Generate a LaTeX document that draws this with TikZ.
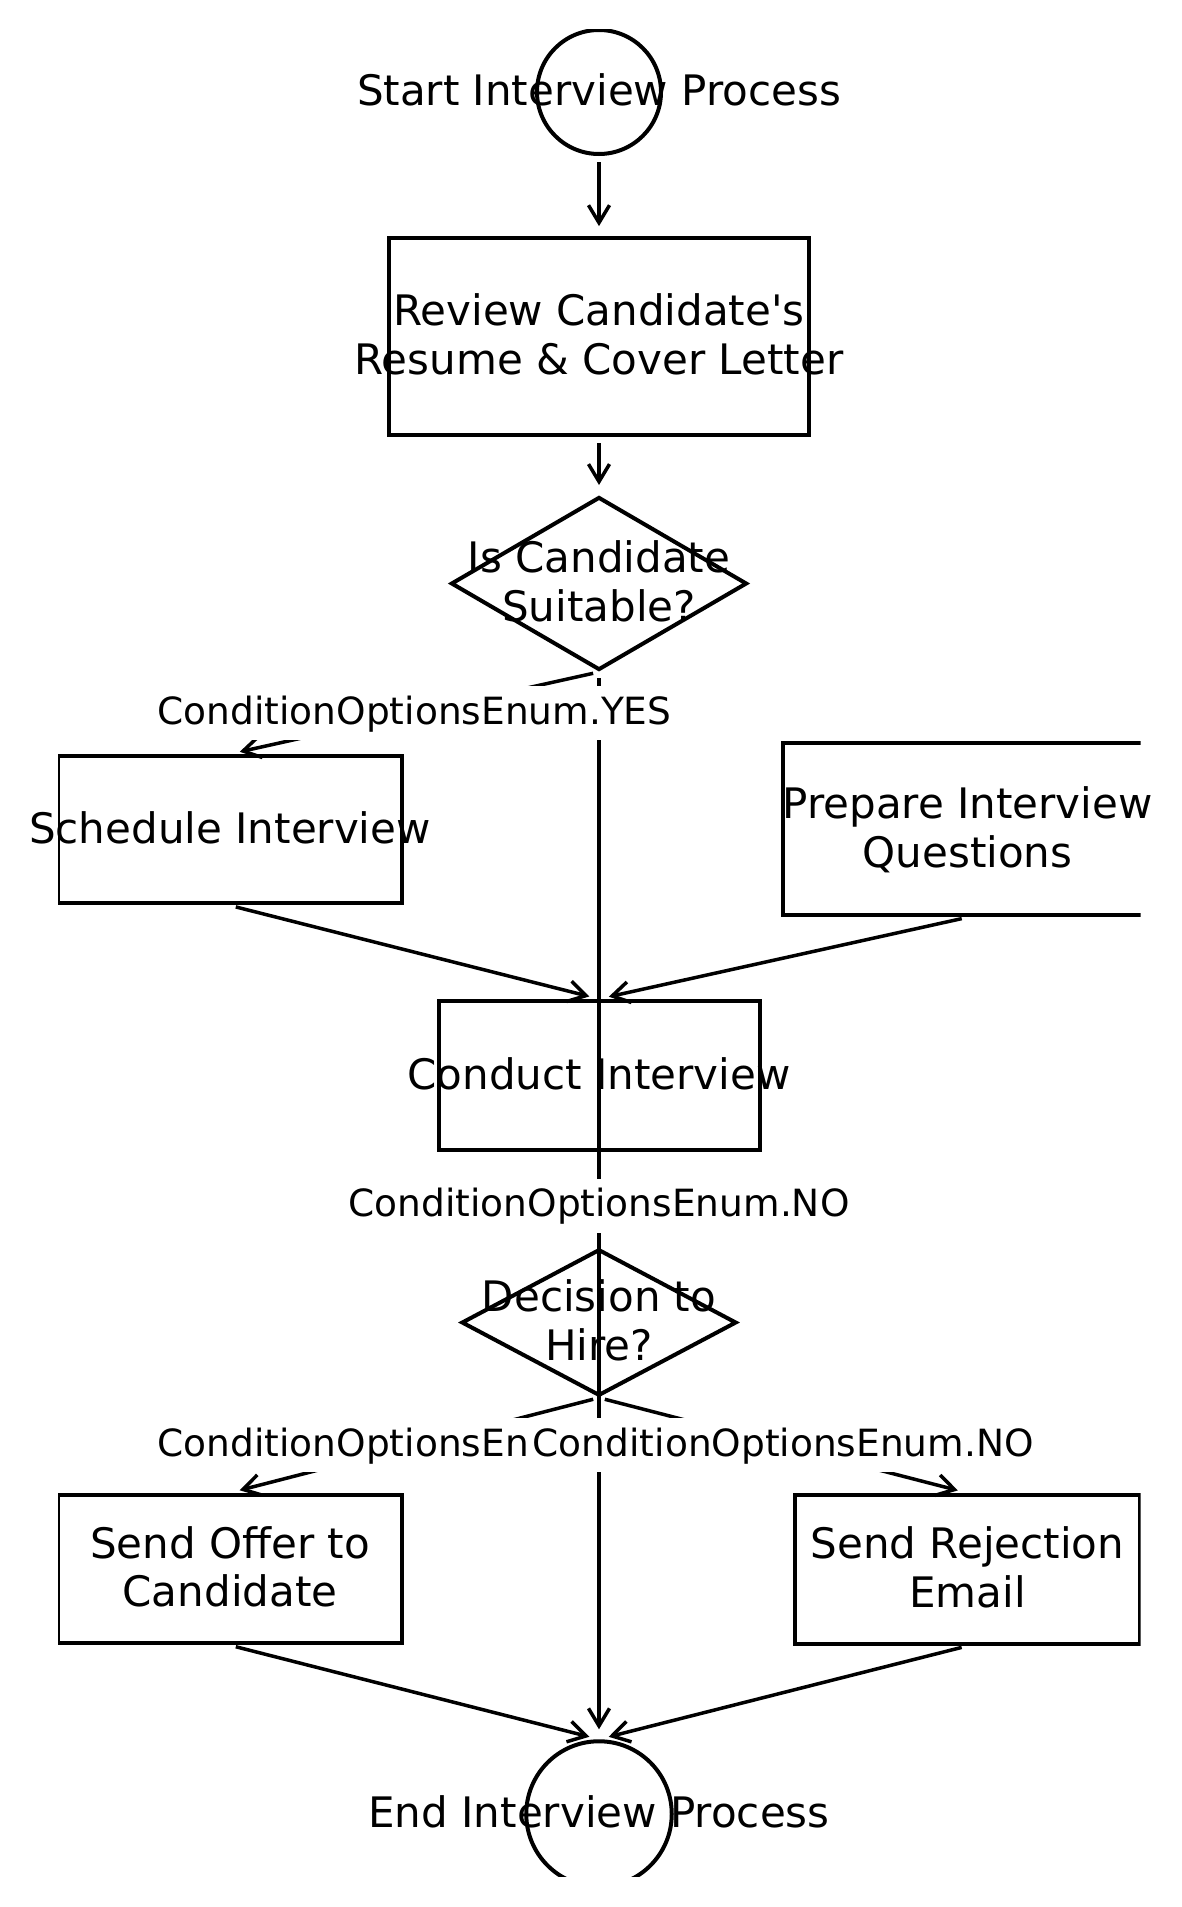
\documentclass[tikz,border=0pt]{standalone}
\usepackage{fontspec}
\setmainfont{DejaVu Sans}
\usetikzlibrary{shapes.geometric,arrows.meta}
\newcommand{\straightquote}{\XeTeXglyph\numexpr\XeTeXcharglyph"27\relax}
\begin{document}
\begin{tikzpicture}[x=0.4pt,y=-0.4pt,
  shapebox/.style={draw, line width=1.6pt, rectangle, inner sep=0pt},
  dia/.style={draw, line width=1.6pt, diamond, inner sep=0pt},
  circ/.style={draw, line width=1.6pt, circle, inner sep=0pt},
  ntext/.style={font=\fontsize{16.8}{19.4}\selectfont, align=center, inner sep=0pt},
  one/.style={text height=15pt, text depth=4.1pt},
  two/.style={text height=34.4pt, text depth=4.1pt},
  edge/.style={line width=1.4pt, -{Straight Barb[length=7pt,width=8.4pt]}, shorten <=2.4pt, shorten >=4pt},
  lbl/.style={fill=white, font=\fontsize{15}{18}\selectfont, text height=12.5pt, text depth=3.5pt, inner xsep=2.5pt, inner ysep=2.85pt}
]
\useasboundingbox (0,0) rectangle (1181,1907);
\begin{scope}
\clip (58,29.3) rectangle (1140.5,1876.5);
\node[circ, minimum size=49.6pt] (start) at (599,92) {};
\node[shapebox, minimum width=168pt, minimum height=78.8pt] (review) at (599,336.6) {};
\node[dia, minimum width=118.4pt, minimum height=69.2pt] (suit) at (599,583.5) {};
\node[shapebox, minimum width=137.6pt, minimum height=59pt] (sched) at (230,829.7) {};
\node[shapebox, minimum width=148pt, minimum height=68.8pt] (prep) at (967.6,829.3) {};
\node[shapebox, minimum width=128.4pt, minimum height=59.6pt] (conduct) at (599,1075.4) {};
\node[dia, minimum width=110pt, minimum height=58.6pt] (hire) at (599,1322.5) {};
\node[shapebox, minimum width=137.6pt, minimum height=59.4pt] (offer) at (230,1569) {};
\node[shapebox, minimum width=137.8pt, minimum height=59.6pt] (reject) at (967.5,1569.4) {};
\node[circ, minimum size=58.2pt] (end) at (599,1814) {};

\draw[edge] (start.south) -- (review.north);
\draw[edge] (review.south) -- (suit.north);
\draw[edge] (suit.south) -- coordinate[pos=0.5] (m1) (sched.north);
\draw[edge] (suit.south) -- coordinate[pos=0.5] (m2) (end.north);
\draw[edge] (sched.south) -- (conduct.north);
\draw[edge] (prep.south) -- (conduct.north);
\draw[edge] (hire.south) -- coordinate[pos=0.5] (m3) (offer.north);
\draw[edge] (hire.south) -- coordinate[pos=0.5] (m4) (reject.north);
\draw[edge] (offer.south) -- (end.north);
\draw[edge] (reject.south) -- (end.north);
\end{scope}

\node[ntext, one] (startT) at (start) {Start Interview Process};
\node[ntext, two] (reviewT) at (review) {Review Candidate\straightquote s\\Resume \& Cover Letter};
\node[ntext, two] (suitT) at (suit) {Is Candidate\\Suitable?};
\node[ntext, one] (schedT) at (sched) {Schedule Interview};
\node[ntext, two] (prepT) at (prep) {Prepare Interview\\Questions};
\node[ntext, one] (conductT) at (conduct) {Conduct Interview};
\node[ntext, two] (hireT) at (hire) {Decision to\\Hire?};
\node[ntext, two] (offerT) at (offer) {Send Offer to\\Candidate};
\node[ntext, two] (rejectT) at (reject) {Send Rejection\\Email};
\node[ntext, one] (endT) at (end) {End Interview Process};

\node[lbl] (l1) at (m1) {ConditionOptionsEnum.YES};
\node[lbl] (l2) at (m2) {ConditionOptionsEnum.NO};
\node[lbl] (l3) at (m3) {ConditionOptionsEnum.YES};
\node[lbl] (l4) at (m4) {ConditionOptionsEnum.NO};
\end{tikzpicture}
\end{document}
